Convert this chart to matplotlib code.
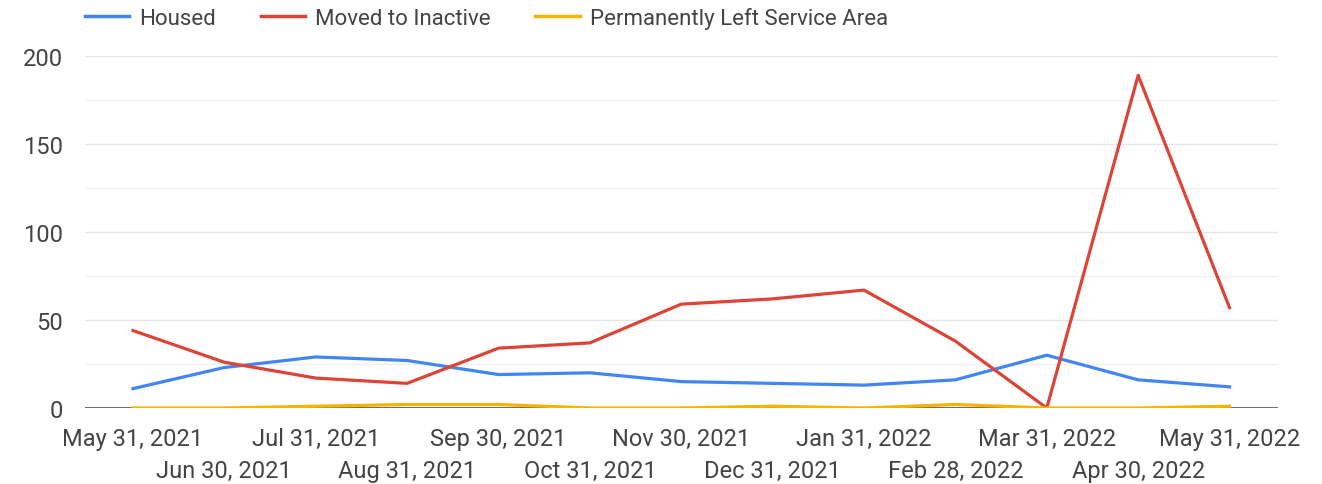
import numpy as np
import matplotlib.pyplot as plt
from matplotlib.lines import Line2D

# dados
datas = ["May 31, 2021", "Jun 30, 2021", "Jul 31, 2021", "Aug 31, 2021", "Sep 30, 2021",
         "Oct 31, 2021", "Nov 30, 2021", "Dec 31, 2021", "Jan 31, 2022", "Feb 28, 2022",
         "Mar 31, 2022", "Apr 30, 2022", "May 31, 2022"]
housed = [11, 23, 29, 27, 19, 20, 15, 14, 13, 16, 30, 16, 12]
inactive = [44, 26, 17, 14, 34, 37, 59, 62, 67, 38, 0, 189, 57]
left_area = [0, 0, 1, 2, 2, 0, 0, 1, 0, 2, 0, 0, 1]

plt.rcParams['font.family'] = ['Roboto', 'DejaVu Sans']

fig = plt.figure(figsize=(13.22, 4.85), dpi=100)
ax = fig.add_axes([0.0643, 0.1567, 0.9024, 0.7258])

x = np.arange(len(datas))
azul, vermelho, amarelo = '#4285F4', '#DB4437', '#F4B400'
ax.plot(x, housed, color=azul, lw=2.3, zorder=3)
ax.plot(x, inactive, color=vermelho, lw=2.3, zorder=3)
ax.plot(x, left_area, color=amarelo, lw=2.3, zorder=4)

ax.set_xlim(-0.525, 12.53)
ax.set_ylim(0, 200)

# grade: principais a cada 50, secundárias a cada 25
ax.set_yticks([0, 50, 100, 150, 200])
ax.set_yticks([25, 75, 125, 175], minor=True)
ax.grid(axis='y', which='major', color='#e6e6e6', lw=1)
ax.grid(axis='y', which='minor', color='#f0f0f0', lw=1)
ax.tick_params(axis='y', which='both', length=0, pad=16, labelsize=17, labelcolor='#444444')
ax.axhline(0, color='#555555', lw=1.2, zorder=2)

# rótulos do eixo x em duas linhas: pares em cima, ímpares embaixo
ax.set_xticks(x[::2])
ax.set_xticklabels(datas[::2])
ax.set_xticks(x[1::2], minor=True)
ax.set_xticklabels(datas[1::2], minor=True)
ax.tick_params(axis='x', which='major', length=0, pad=13.5, labelsize=17, labelcolor='#444444')
ax.tick_params(axis='x', which='minor', length=0, pad=37, labelsize=17, labelcolor='#444444')

for s in ax.spines.values():
    s.set_visible(False)

handles = [Line2D([], [], color=c, lw=2.5) for c in (azul, vermelho, amarelo)]
fig.legend(handles, ['Housed', 'Moved to Inactive', 'Permanently Left Service Area'],
           loc='center left', bbox_to_anchor=(0.0643, 1 - 19 / 485), ncol=3, frameon=False,
           fontsize=16, handlelength=2.0, columnspacing=2.0, handletextpad=0.45,
           borderpad=0, borderaxespad=0, labelcolor='#444444')

fig.savefig('out.png', dpi=100)
